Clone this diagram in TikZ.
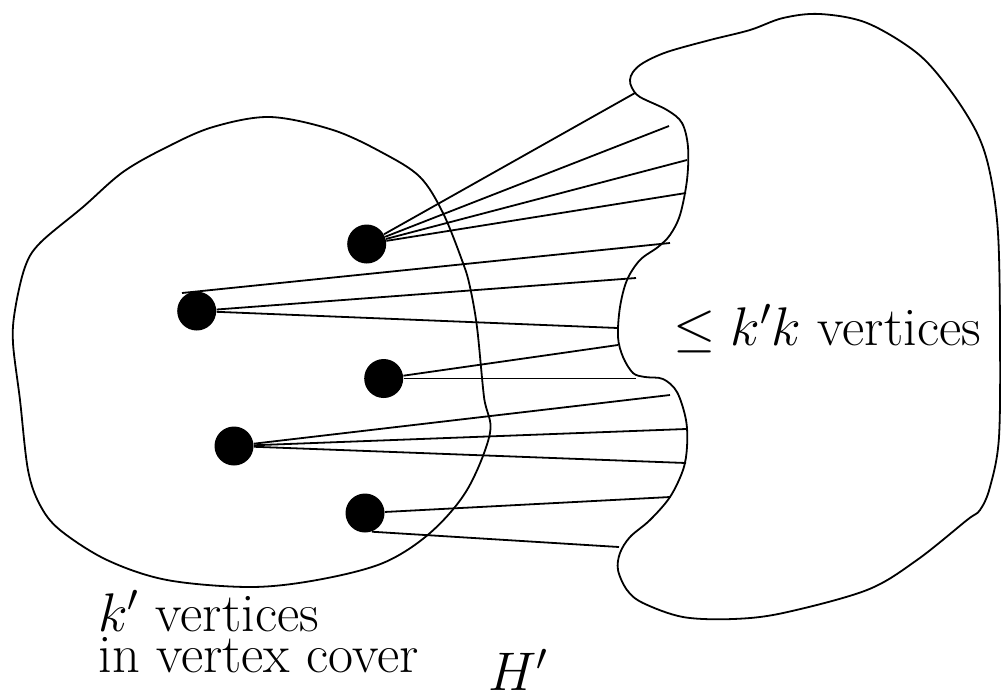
\RequirePackage{fix-cm}
\documentclass[tikz,border=0pt]{standalone}
\begin{document}
\begin{tikzpicture}[x=0.5pt,y=-0.5pt,
  dot/.style={circle,fill=black,inner sep=0pt,minimum size=19.5pt},
  edge/.style={line width=0.9pt},
  blob/.style={line width=0.9pt},
  lbl/.style={anchor=base west,inner sep=0pt,font=\fontsize{27.2}{20.5}\selectfont}]
\useasboundingbox (0,0) rectangle (1001,698);
% left blob (vertex cover)
\draw[blob] plot[smooth cycle, tension=0.55] coordinates {(270,117) (213,127) (167,147) (123,172) (83,207) (40,243) (25,267) (15,310) (13,343) (20,400) (28,470) (40,505) (60,530) (107,560) (167,580) (250,587) (317,580) (383,563) (430,533) (467,490) (490,433) (484,397) (477,327) (470,287) (463,263) (443,213) (420,177) (383,153) (333,130)};
% right blob
\draw[blob] plot[smooth cycle, tension=0.55] coordinates {(632,88) (630,80) (633,72) (643,63) (667,52) (710,40) (750,30) (783,18) (820,14) (867,23) (917,53) (950,90) (977,133) (990,173) (998,233) (1000,330) (999,437) (990,487) (980,510) (967,520) (917,560) (867,590) (783,613) (733,619) (683,617) (643,603) (627,590) (618,570) (620,553) (630,537) (650,520) (670,497) (683,470) (687,447) (686,420) (677,392) (663,379) (645,377) (633,373) (623,357) (618,337) (620,307) (627,280) (640,260) (658,247) (670,235) (680,215) (687,180) (688,147) (682,123) (667,110) (640,97)};
% vertices
\node[dot] (v1) at (366.7,244) {};
\node[dot] (v2) at (196.7,311) {};
\node[dot] (v3) at (383.7,378.5) {};
\node[dot] (v4) at (234,446) {};
\node[dot] (v5) at (365,513) {};
% free ends
\coordinate (a1) at (635,93);
\coordinate (a2) at (669,126);
\coordinate (a3) at (687,160);
\coordinate (a4) at (686,193);
\coordinate (v2t) at (182,293);
\coordinate (b1) at (670,243);
\coordinate (b2) at (636,278);
\coordinate (b3) at (618,328);
\coordinate (c1) at (618,345);
\coordinate (c2) at (636,378.5);
\coordinate (d1) at (670,395);
\coordinate (d2) at (686,429);
\coordinate (d3) at (686,463);
\coordinate (e1) at (670,497);
\coordinate (e2) at (619,547);
% edges
\draw[edge] (v1) -- (a1);
\draw[edge] (v1) -- (a2);
\draw[edge] (v1) -- (a3);
\draw[edge] (v1) -- (a4);
\draw[edge] (v2t) -- (b1);
\draw[edge] (v2) -- (b2);
\draw[edge] (v2) -- (b3);
\draw[edge] (v3) -- (c1);
\draw[edge] (v3) -- (c2);
\draw[edge] (v4) -- (d1);
\draw[edge] (v4) -- (d2);
\draw[edge] (v4) -- (d3);
\draw[edge] (v5) -- (e1);
\draw[edge] (v5.-70) -- (e2);
% labels
\node[lbl,align=left] (t1) at (98,672) {$k'$ vertices\\in vertex cover};
\node[lbl] (t3) at (488,690) {$H'$};
\node[lbl] (t4) at (673,345) {$\leq k'k$ vertices};
\end{tikzpicture}
\end{document}
